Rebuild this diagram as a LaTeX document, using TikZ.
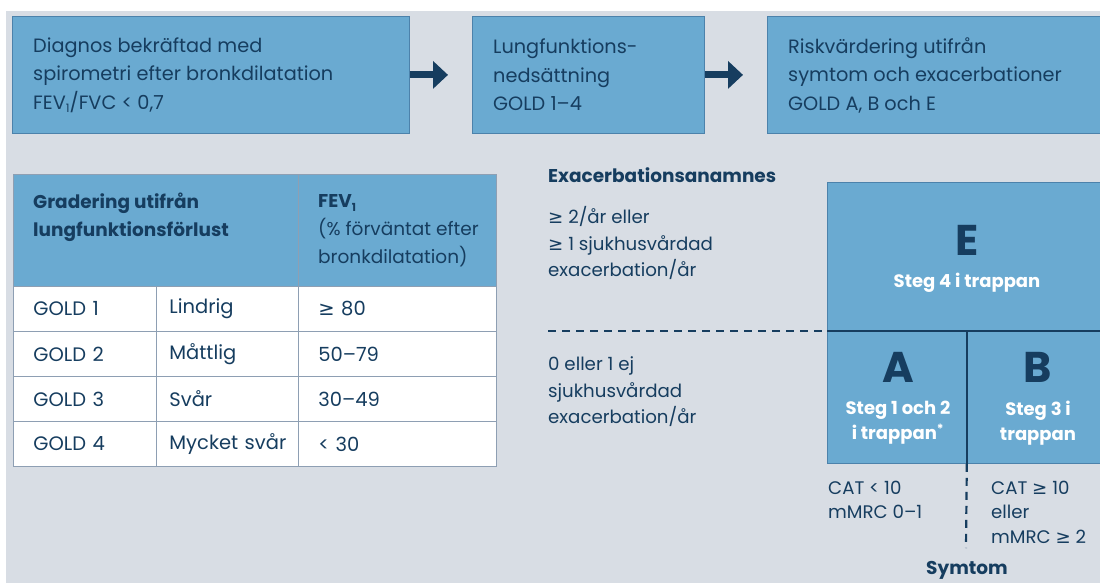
\documentclass[tikz,border=0pt]{standalone}
\usepackage{fontspec}
\setmainfont{Poppins}
\newfontfamily\symf{DejaVu Sans}
\usetikzlibrary{arrows.meta}
\definecolor{bggrey}{HTML}{D8DDE4}
\definecolor{boxblue}{HTML}{6AAAD1}
\definecolor{boxedge}{HTML}{4C82AB}
\definecolor{navy}{HTML}{163D5F}
\definecolor{tblline}{HTML}{8E9FB3}
\newcommand{\gesym}{{\symf ≥}}
\newcommand{\lowone}{\raisebox{-0.35ex}{\scalebox{0.6}{1}}}
\tikzset{
  flowbox/.style={draw=boxedge, fill=boxblue, line width=0.8pt, anchor=north west, minimum height=117pt, inner sep=0pt},
  qbox/.style={draw=boxedge, fill=boxblue, line width=0.8pt, anchor=north west, inner sep=0pt},
  txt/.style={text=navy, align=left, inner sep=0pt, anchor=west, font=\fontsize{19.3}{28.5}\selectfont},
  rtxt/.style={text=navy, align=left, inner sep=0pt, anchor=west, font=\fontsize{18.2}{26.5}\selectfont},
  boldtxt/.style={text=navy, inner sep=0pt, font=\bfseries\fontsize{18.5}{26}\selectfont},
  flowarrow/.style={draw=navy, line width=7pt, -{Triangle[length=15pt,width=27pt]}, shorten >=24pt},
  hcell/.style={draw=tblline, fill=boxblue, line width=0.8pt, anchor=north west, minimum height=112pt, inner sep=0pt},
  bcell/.style={draw=tblline, fill=white, line width=0.8pt, anchor=north west, minimum height=45pt, align=left, text=navy, font=\fontsize{19.5}{24}\selectfont},
  bigletter/.style={text=navy, inner sep=0pt, font=\bfseries\fontsize{43}{43}\selectfont},
  wbold/.style={text=white, inner sep=0pt, align=center, font=\bfseries\fontsize{18}{25}\selectfont},
  divline/.style={draw=navy, line width=2pt},
  dashline/.style={draw=navy, line width=2.2pt, dash pattern=on 8pt off 6pt},
}
\begin{document}
\begin{tikzpicture}[x=1pt,y=-1pt]
\useasboundingbox (0,0) rectangle (1100,583);
\fill[white] (0,0) rectangle (1100,583);
\fill[bggrey] (6,11) rectangle (1100,583);

% flow boxes
\node[flowbox, minimum width=397pt] (d1) at (12,16) {};
\node[txt] (d1t) at (33,75) {Diagnos bekräftad med\\spirometri efter bronkdilatation\\FEV\lowone/FVC < 0,7};
\node[flowbox, minimum width=232pt] (d2) at (472,16) {};
\node[txt] (d2t) at (493,75) {Lungfunktions-\\nedsättning\\GOLD 1–4};
\node[flowbox, minimum width=350pt] (d3) at (767,16) {};
\node[txt] (d3t) at (788,75) {Riskvärdering utifrån\\symtom och exacerbationer\\GOLD A, B och E};
\draw[flowarrow] (d1.east) -- (d2.west);
\draw[flowarrow] (d2.east) -- (d3.west);

% table
\node[hcell, minimum width=285pt] (th1) at (13,174) {};
\node[hcell, minimum width=198pt] (th2) at (298,174) {};
\node[txt, font=\bfseries\fontsize{18.5}{28}\selectfont] (th1t) at (33,217) {Gradering utifrån\\lungfunktionsförlust};
\node[txt, font=\fontsize{18.5}{28}\selectfont] (th2t) at (318,231) {\textbf{FEV\lowone}\\(\% förväntat efter\\bronkdilatation)};
\foreach \g/\s/\v [count=\i] in {1/Lindrig/{\gesym\ 80}, 2/Måttlig/{50–79}, 3/Svår/{30–49}, 4/Mycket svår/{< 30}} {
  \node[bcell, minimum width=143pt, inner xsep=20pt, text width=103pt] (r\i a) at (13,{286+45*(\i-1)}) {\mbox{GOLD \g}};
  \node[bcell, minimum width=142pt, inner xsep=13pt, text width=116pt] (r\i b) at (156,{286+45*(\i-1)}) {\mbox{\s}};
  \node[bcell, minimum width=198pt, inner xsep=20pt, text width=158pt] (r\i c) at (298,{286+45*(\i-1)}) {\mbox{\v}};
}

% risk matrix
\node[boldtxt, anchor=west] (exh) at (548,175) {Exacerbationsanamnes};
\node[rtxt] (ex1) at (548,243) {\gesym\ 2/år eller\\\gesym\ 1 sjukhusvårdad\\exacerbation/år};
\node[rtxt] (ex0) at (548,392) {0 eller 1 ej\\sjukhusvårdad\\exacerbation/år};

\node[qbox, minimum width=283pt, minimum height=149pt] (E) at (827,182) {};
\node[qbox, minimum width=139pt, minimum height=132pt] (A) at (827,331) {};
\node[qbox, minimum width=144pt, minimum height=132pt] (B) at (966,331) {};
\draw[divline] (A.north west) -- (B.north east);
\draw[divline] (A.north east) -- (A.south east);
\coordinate (dl) at (548,331);
\draw[dashline] (dl) -- (A.north west);
\coordinate (dv) at (966,548);
\draw[dashline] (A.south east) -- (dv);

\node[bigletter] (Et) at (967,240) {E};
\node[wbold] (Es) at (967,283) {Steg 4 i trappan};
\node[bigletter] (At) at (898,367) {A};
\node[wbold] (As) at (898,423) {Steg 1 och 2\\i trappan\textsuperscript{*}};
\node[bigletter] (Bt) at (1038,367) {B};
\node[wbold] (Bs) at (1038,423) {Steg 3 i\\trappan};

\node[rtxt, font=\fontsize{18.2}{24.5}\selectfont] (cat1) at (828,500) {CAT < 10\\mMRC 0–1};
\node[rtxt, font=\fontsize{18.2}{24.5}\selectfont] (cat2) at (991,512) {CAT \gesym\ 10\\eller\\mMRC \gesym\ 2};
\node[boldtxt] (sym) at (967,570) {Symtom};
\end{tikzpicture}
\end{document}
